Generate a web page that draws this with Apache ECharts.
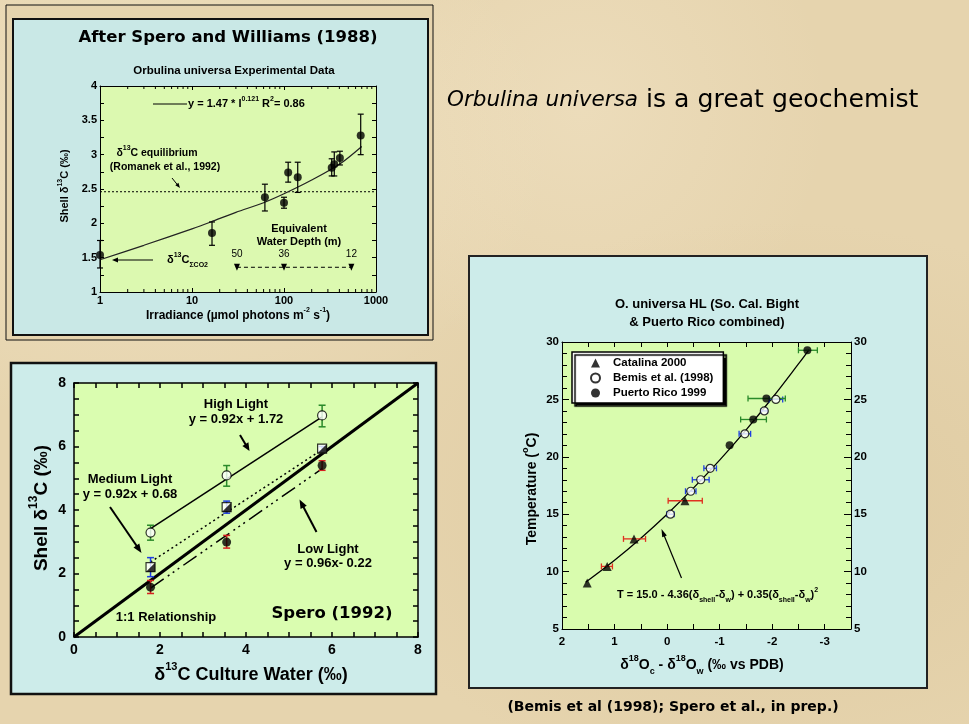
<!DOCTYPE html>
<html><head><meta charset="utf-8">
<script src="https://cdn.jsdelivr.net/npm/echarts@6/dist/echarts.min.js"></script>
<style>
html,body{margin:0;padding:0;width:969px;height:724px;overflow:hidden;}
body{background:
 radial-gradient(ellipse at 15% 20%, rgba(250,240,215,0.45), rgba(0,0,0,0) 35%),
 radial-gradient(ellipse at 80% 70%, rgba(205,180,130,0.30), rgba(0,0,0,0) 40%),
 radial-gradient(ellipse at 60% 15%, rgba(245,232,205,0.40), rgba(0,0,0,0) 30%),
 #e6d4ae;}
#c{width:969px;height:724px;}
</style></head><body><div id="c"></div><script>
// ---------- Panel 1: Spero & Williams (1988) ----------
const irrX  = [1, 16.5, 62, 100, 111, 141, 330, 352, 405, 682];
const irrY  = [1.54, 1.86, 2.38, 2.30, 2.74, 2.67, 2.81, 2.86, 2.95, 3.28];
const irrLo = [1.35, 1.68, 2.18, 2.22, 2.60, 2.45, 2.69, 2.69, 2.85, 3.00];
const irrHi = [1.75, 2.02, 2.57, 2.38, 2.89, 2.89, 2.94, 3.04, 3.05, 3.59];
const fitX  = [1, 3, 10, 16, 30, 60, 100, 200, 400, 700];
const fitY  = [1.47, 1.68, 1.92, 2.02, 2.16, 2.30, 2.43, 2.63, 2.86, 3.12];
const eqX   = [1, 1000];
const eqY   = [2.46, 2.46];
const depthX = [30.8, 100, 540];
const depthY = [1.36, 1.36, 1.36];
const depthLabels = ['50', '36', '12'];
const irrTicks = ['1', '10', '100', '1000'];

// ---------- Panel 2: Spero (1992) ----------
const cwX    = [1.78, 3.55, 5.77];
const highY  = [3.29, 5.09, 6.98];
const highLo = [3.05, 4.75, 6.62];
const highHi = [3.52, 5.40, 7.30];
const medY   = [2.20, 4.09, 5.93];
const medLo  = [1.90, 3.90, 5.86];
const medHi  = [2.50, 4.28, 6.00];
const lowY   = [1.57, 2.99, 5.40];
const lowLo  = [1.37, 2.80, 5.25];
const lowHi  = [1.78, 3.20, 5.55];
const highFitX = [1.78, 5.77], highFitY = [3.41, 6.93];
const medFitX  = [1.78, 5.77], medFitY  = [2.36, 5.90];
const lowFitX  = [1.78, 5.77], lowFitY  = [1.54, 5.30];
const oneX = [0, 8], oneY = [0, 8];

// ---------- Panel 3: O. universa HL ----------
const catX   = [1.52, 1.14, 0.63, -0.34];
const catY   = [9.0, 10.45, 12.85, 16.17];
const catXLo = [1.52, 1.25, 0.83, -0.02];
const catXHi = [1.52, 1.04, 0.41, -0.67];
const bemX   = [-0.063, -0.45, -0.64, -0.82, -1.48, -1.85, -2.07];
const bemY   = [15, 17, 18, 19, 22, 24, 25];
const bemErr = [0.07, 0.10, 0.16, 0.12, 0.11, 0.06, 0.13];
const prX    = [-1.19, -1.64, -1.89, -2.67];
const prY    = [21.0, 23.25, 25.08, 29.28];
const prXLo  = [-1.19, -1.40, -1.54, -2.50];
const prXHi  = [-1.19, -1.89, -2.25, -2.86];
const curveX = [1.55, 1.0, 0.5, 0, -0.5, -1.0, -1.5, -2.0, -2.5, -2.7];
const curveY = [9.08, 10.99, 12.91, 15.0, 17.27, 19.71, 22.33, 25.12, 28.09, 29.32];

// ---------- helpers ----------
const FA = "'Liberation Sans', Arial, Helvetica, sans-serif";
const FC = "'DejaVu Sans', 'Comic Sans MS', sans-serif";
const pairs = (xs, ys) => xs.map((x, i) => [x, ys[i]]);

function rich(F, fam, weight) {
  const w = weight || 'bold';
  const L = Math.round(F * 1.55);
  const s = Math.max(6, Math.round(F * 0.62));
  return {
    b:   {fontSize: F, fontWeight: w, fontFamily: fam, lineHeight: L, verticalAlign: 'middle', fill: '#000'},
    n:   {fontSize: F * 1.17, fontWeight: 'normal', fontFamily: fam, lineHeight: L, verticalAlign: 'middle', fill: '#000'},
    i:   {fontSize: F, fontWeight: 'normal', fontStyle: 'italic', fontFamily: fam, lineHeight: L, verticalAlign: 'middle', fill: '#000'},
    sup: {fontSize: s, fontWeight: w, fontFamily: fam, lineHeight: s + 1, verticalAlign: 'top', fill: '#000'},
    sub: {fontSize: s, fontWeight: w, fontFamily: fam, lineHeight: s + 1, verticalAlign: 'bottom', fill: '#000'}
  };
}
function T(x, y, text, F, o) {
  o = o || {};
  const fam = o.fam || FA;
  return {
    type: 'text', x: x, y: y, rotation: o.rot || 0, z: 100,
    style: {text: text, rich: rich(F, fam, o.weight), align: o.align || 'center', verticalAlign: 'middle',
            fontSize: F, fontFamily: fam, fontWeight: o.weight || 'bold', fill: '#000'}
  };
}
function arrow(x1, y1, x2, y2, lw, hl, hw) {
  const a = Math.atan2(y2 - y1, x2 - x1);
  const bx = x2 - hl * Math.cos(a), by = y2 - hl * Math.sin(a);
  const px = -Math.sin(a) * hw / 2, py = Math.cos(a) * hw / 2;
  return [
    {type: 'line', z: 100, shape: {x1: x1, y1: y1, x2: bx + (x2 - bx) * 0.3, y2: by + (y2 - by) * 0.3}, style: {stroke: '#000', lineWidth: lw}},
    {type: 'polygon', z: 100, shape: {points: [[x2, y2], [bx + px, by + py], [bx - px, by - py]]}, style: {fill: '#000'}}
  ];
}
function vErr(color, cap, lw) {
  return function (params, api) {
    const x = api.value(0), lo = api.value(1), hi = api.value(2);
    const a = api.coord([x, lo]), b = api.coord([x, hi]);
    const st = {stroke: color, lineWidth: lw};
    return {type: 'group', children: [
      {type: 'line', shape: {x1: a[0], y1: a[1], x2: b[0], y2: b[1]}, style: st},
      {type: 'line', shape: {x1: a[0] - cap, y1: a[1], x2: a[0] + cap, y2: a[1]}, style: st},
      {type: 'line', shape: {x1: b[0] - cap, y1: b[1], x2: b[0] + cap, y2: b[1]}, style: st}
    ]};
  };
}
function hErr(color, cap, lw) {
  return function (params, api) {
    const y = api.value(0), lo = api.value(1), hi = api.value(2);
    const a = api.coord([lo, y]), b = api.coord([hi, y]);
    const st = {stroke: color, lineWidth: lw};
    if (Math.abs(a[0] - b[0]) < 0.5) return {type: 'group', children: []};
    return {type: 'group', children: [
      {type: 'line', shape: {x1: a[0], y1: a[1], x2: b[0], y2: b[1]}, style: st},
      {type: 'line', shape: {x1: a[0], y1: a[1] - cap, x2: a[0], y2: a[1] + cap}, style: st},
      {type: 'line', shape: {x1: b[0], y1: b[1] - cap, x2: b[0], y2: b[1] + cap}, style: st}
    ]};
  };
}
const logMinor = [];
for (let d = 1; d <= 100; d *= 10) for (let k = 2; k <= 9; k++) logMinor.push(d * k);

function axis(o) {
  const base = {
    gridIndex: o.grid, type: o.type || 'value', min: o.min, max: o.max, interval: o.interval,
    position: o.position, inverse: !!o.inverse, logBase: 10,
    axisLine: {show: true, onZero: false, lineStyle: {color: '#000', width: o.lw || 1}},
    axisTick: {show: true, inside: true, length: o.tick || 5, lineStyle: {color: '#000', width: o.lw || 1}},
    minorTick: {show: !!o.minor, splitNumber: o.minor || 5, length: o.minorLen || 3, lineStyle: {color: '#000', width: o.lw || 1}},
    splitLine: {show: false}, minorSplitLine: {show: false},
    axisLabel: {show: !!o.labels, fontSize: o.fs || 11, fontWeight: 'bold', fontFamily: FA, color: '#000',
                margin: o.margin || 4, formatter: o.fmt, showMinLabel: true, showMaxLabel: true},
    axisPointer: {show: false}
  };
  if (o.type === 'log') delete base.interval;
  return base;
}
const logFmt = v => irrTicks[Math.round(Math.log10(v))];
const intFmt = v => (Math.abs(v - Math.round(v)) < 1e-6 ? String(Math.round(v)) : '');

const grids = [
  {left: 100, top: 86, width: 276, height: 206, show: true, backgroundColor: '#dcf9b0', borderWidth: 0},
  {left: 74, top: 383, width: 344, height: 254, show: true, backgroundColor: '#dafdb0', borderWidth: 0},
  {left: 562, top: 342, width: 289, height: 287, show: true, backgroundColor: '#d9fcae', borderWidth: 0}
];
const xAxes = [
  axis({grid: 0, type: 'log', min: 1, max: 1000, position: 'bottom', labels: true, fs: 11, margin: 3, fmt: logFmt, tick: 4}),
  axis({grid: 0, type: 'log', min: 1, max: 1000, position: 'top', tick: 4}),
  axis({grid: 1, min: 0, max: 8, interval: 2, position: 'bottom', labels: true, fs: 14, margin: 6, minor: 4, tick: 5, minorLen: 5, lw: 1.5}),
  axis({grid: 1, min: 0, max: 8, interval: 2, position: 'top', minor: 4, tick: 5, minorLen: 5, lw: 1.5}),
  axis({grid: 2, min: -3.5, max: 2, interval: 0.5, inverse: true, position: 'bottom', labels: true, fs: 11.5, margin: 7, fmt: intFmt, tick: 5}),
  axis({grid: 2, min: -3.5, max: 2, interval: 0.5, inverse: true, position: 'top', tick: 5})
];
const yAxes = [
  axis({grid: 0, min: 1, max: 4, interval: 0.5, position: 'left', labels: true, fs: 11, margin: 3, minor: 2, tick: 4, minorLen: 4}),
  axis({grid: 0, min: 1, max: 4, interval: 0.5, position: 'right', minor: 2, tick: 4, minorLen: 4}),
  axis({grid: 1, min: 0, max: 8, interval: 2, position: 'left', labels: true, fs: 14, margin: 8, minor: 4, tick: 5, minorLen: 5, lw: 1.5}),
  axis({grid: 1, min: 0, max: 8, interval: 2, position: 'right', minor: 4, tick: 5, minorLen: 5, lw: 1.5}),
  axis({grid: 2, min: 5, max: 30, interval: 5, position: 'left', labels: true, fs: 11.5, margin: 3, minor: 5, tick: 7, minorLen: 5}),
  axis({grid: 2, min: 5, max: 30, interval: 5, position: 'right', labels: true, fs: 11.5, margin: 3, minor: 5, tick: 7, minorLen: 5})
];

const series = [
  // panel 1
  {type: 'custom', xAxisIndex: 0, yAxisIndex: 0, silent: true, z: 3, data: logMinor.map(v => [v, 1]),
   renderItem: function (p, api) {
     const b = api.coord([api.value(0), 1]), t = api.coord([api.value(0), 4]);
     const st = {stroke: '#000', lineWidth: 1};
     return {type: 'group', children: [
       {type: 'line', shape: {x1: b[0], y1: b[1], x2: b[0], y2: b[1] - 3}, style: st},
       {type: 'line', shape: {x1: t[0], y1: t[1], x2: t[0], y2: t[1] + 3}, style: st}]};
   }},
  {type: 'line', xAxisIndex: 0, yAxisIndex: 0, data: pairs(eqX, eqY), symbol: 'none', silent: true, z: 2,
   lineStyle: {color: '#000', width: 1, type: [2, 2]}},
  {type: 'line', xAxisIndex: 0, yAxisIndex: 0, data: pairs(fitX, fitY), symbol: 'none', smooth: 0.3, silent: true, z: 2,
   lineStyle: {color: '#222', width: 1.2}},
  {type: 'line', xAxisIndex: 0, yAxisIndex: 0, data: pairs(depthX, depthY), silent: true, z: 2,
   symbol: 'triangle', symbolRotate: 180, symbolSize: [6, 7], itemStyle: {color: '#000'},
   lineStyle: {color: '#000', width: 1, type: [4, 3]},
   label: {show: true, position: 'top', distance: 5, fontSize: 10, fontFamily: FA, color: '#000',
           formatter: p => depthLabels[p.dataIndex]}},
  {type: 'custom', xAxisIndex: 0, yAxisIndex: 0, silent: true, z: 3, clip: false, renderItem: vErr('#000', 3, 1.2),
   data: irrX.map((x, i) => [x, irrLo[i], irrHi[i]])},
  {type: 'scatter', xAxisIndex: 0, yAxisIndex: 0, data: pairs(irrX, irrY), symbol: 'circle', symbolSize: 8, z: 4, clip: false,
   itemStyle: {color: '#000'}},

  // panel 2
  {type: 'line', xAxisIndex: 2, yAxisIndex: 2, data: pairs(oneX, oneY), symbol: 'none', silent: true, z: 2,
   lineStyle: {color: '#000', width: 3}},
  {type: 'line', xAxisIndex: 2, yAxisIndex: 2, data: pairs(highFitX, highFitY), symbol: 'none', silent: true, z: 2,
   lineStyle: {color: '#000', width: 1.5}},
  {type: 'line', xAxisIndex: 2, yAxisIndex: 2, data: pairs(medFitX, medFitY), symbol: 'none', silent: true, z: 2,
   lineStyle: {color: '#000', width: 1.5, type: [2, 3]}},
  {type: 'line', xAxisIndex: 2, yAxisIndex: 2, data: pairs(lowFitX, lowFitY), symbol: 'none', silent: true, z: 2,
   lineStyle: {color: '#000', width: 1.5, type: [16, 5, 2, 4, 2, 4, 2, 5]}},
  {type: 'custom', xAxisIndex: 2, yAxisIndex: 2, silent: true, z: 3, renderItem: vErr('#2a8a2a', 3.5, 1.5),
   data: cwX.map((x, i) => [x, highLo[i], highHi[i]])},
  {type: 'custom', xAxisIndex: 2, yAxisIndex: 2, silent: true, z: 3, renderItem: vErr('#1f3fe0', 3.5, 1.5),
   data: cwX.map((x, i) => [x, medLo[i], medHi[i]])},
  {type: 'custom', xAxisIndex: 2, yAxisIndex: 2, silent: true, z: 3, renderItem: vErr('#d42020', 3.5, 1.5),
   data: cwX.map((x, i) => [x, lowLo[i], lowHi[i]])},
  {type: 'scatter', xAxisIndex: 2, yAxisIndex: 2, data: pairs(cwX, highY), symbol: 'circle', symbolSize: 9, z: 4,
   itemStyle: {color: '#fff', borderColor: '#000', borderWidth: 1.2}},
  {type: 'scatter', xAxisIndex: 2, yAxisIndex: 2, data: pairs(cwX, medY), symbol: 'rect', symbolSize: 9, z: 4,
   itemStyle: {color: '#fff', borderColor: '#000', borderWidth: 1.2}},
  {type: 'scatter', xAxisIndex: 2, yAxisIndex: 2, data: pairs(cwX, medY), symbol: 'path://M10,0 L10,10 L0,10 Z', symbolSize: 9, z: 5,
   itemStyle: {color: '#000'}},
  {type: 'scatter', xAxisIndex: 2, yAxisIndex: 2, data: pairs(cwX, lowY), symbol: 'circle', symbolSize: 9, z: 4,
   itemStyle: {color: '#000'}},

  // panel 3
  {type: 'line', xAxisIndex: 4, yAxisIndex: 4, data: pairs(curveX, curveY), symbol: 'none', smooth: 0.4, silent: true, z: 2,
   lineStyle: {color: '#000', width: 1.3}},
  {type: 'custom', xAxisIndex: 4, yAxisIndex: 4, silent: true, z: 3, renderItem: hErr('#e03020', 3, 1.3),
   data: catY.map((y, i) => [y, catXLo[i], catXHi[i]]), encode: {x: 1, y: 0}},
  {type: 'custom', xAxisIndex: 4, yAxisIndex: 4, silent: true, z: 3, renderItem: hErr('#1f3fe0', 3, 1.3),
   data: bemY.map((y, i) => [y, bemX[i] - bemErr[i], bemX[i] + bemErr[i]]), encode: {x: 1, y: 0}},
  {type: 'custom', xAxisIndex: 4, yAxisIndex: 4, silent: true, z: 3, renderItem: hErr('#2a8a2a', 3, 1.3),
   data: prY.map((y, i) => [y, prXLo[i], prXHi[i]]), encode: {x: 1, y: 0}},
  {name: 'Catalina 2000', type: 'scatter', xAxisIndex: 4, yAxisIndex: 4, data: pairs(catX, catY), symbol: 'triangle', symbolSize: 9, z: 4,
   itemStyle: {color: '#000'}},
  {name: 'Bemis et al. (1998)', type: 'scatter', xAxisIndex: 4, yAxisIndex: 4, data: pairs(bemX, bemY), symbol: 'circle', symbolSize: 8, z: 4,
   itemStyle: {color: '#fff', borderColor: '#000', borderWidth: 1.2}},
  {name: 'Puerto Rico 1999', type: 'scatter', xAxisIndex: 4, yAxisIndex: 4, data: pairs(prX, prY), symbol: 'circle', symbolSize: 8, z: 4,
   itemStyle: {color: '#000'}}
];

// ---------- graphic: panels, titles, annotations ----------
const graphic = [
  {type: 'rect', z: -10, shape: {x: 6, y: 5, width: 427, height: 335}, style: {fill: '#e6d4ae', stroke: '#111', lineWidth: 1}},
  {type: 'rect', z: -9, shape: {x: 13, y: 19, width: 415, height: 316}, style: {fill: '#c9e8e6', stroke: '#111', lineWidth: 2}},
  {type: 'rect', z: -9, shape: {x: 11, y: 363, width: 425, height: 331}, style: {fill: '#cdecea', stroke: '#111', lineWidth: 2.5}},
  {type: 'rect', z: -9, shape: {x: 469, y: 256, width: 458, height: 432}, style: {fill: '#cdecea', stroke: '#222', lineWidth: 2}},

  // slide title & caption
  T(447, 100, '{i|Orbulina universa}{n| is a great geochemist}', 21.5, {fam: FC, align: 'left', weight: 'normal'}),
  T(673, 707, '{b|(Bemis et al (1998); Spero et al., in prep.)}', 14, {fam: FC}),

  // panel 1
  T(228, 38, '{b|After Spero and Williams (1988)}', 16.5, {fam: FC}),
  T(234, 71, '{b|Orbulina universa Experimental Data}', 11.5),
  {type: 'line', z: 100, shape: {x1: 153, y1: 104, x2: 187, y2: 104}, style: {stroke: '#000', lineWidth: 1}},
  T(188, 104, '{b|y = 1.47 * I}{sup|0.121}{b| R}{sup|2}{b|= 0.86}', 11, {align: 'left'}),
  T(157, 153, '{b|δ}{sup|13}{b|C equilibrium}', 10.5),
  T(165, 167, '{b|(Romanek et al., 1992)}', 10.5),
  ...arrow(172, 178, 180, 188, 1, 5, 4),
  T(167, 260, '{b|δ}{sup|13}{b|C}{sub|ΣCO2}', 11, {align: 'left'}),
  ...arrow(153, 260, 112, 260, 1, 6, 5),
  T(299, 229, '{b|Equivalent}', 11),
  T(299, 242, '{b|Water Depth (m)}', 11),
  T(65, 186, '{b|Shell δ}{sup|13}{b|C (‰)}', 11, {rot: Math.PI / 2}),
  T(238, 316, '{b|Irradiance (µmol photons m}{sup|-2}{b| s}{sup|-1}{b|)}', 12),

  // panel 2
  T(236, 404, '{b|High Light}', 13),
  T(236, 419, '{b|y = 0.92x + 1.72}', 13),
  ...arrow(240, 435, 249.5, 451, 2, 8, 7),
  T(130, 479, '{b|Medium Light}', 13),
  T(130, 494, '{b|y = 0.92x + 0.68}', 13),
  ...arrow(110, 507, 141.5, 553, 2, 9, 7),
  T(328, 549, '{b|Low Light}', 13),
  T(328, 563, '{b|y = 0.96x- 0.22}', 13),
  ...arrow(316.5, 532, 299.5, 499.5, 2, 9, 7),
  T(166, 617, '{b|1:1 Relationship}', 13),
  T(332, 614, '{b|Spero (1992)}', 16.5, {fam: FC}),
  T(42, 508, '{b|Shell δ}{sup|13}{b|C (‰)}', 19, {rot: Math.PI / 2}),
  T(251, 675, '{b|δ}{sup|13}{b|C Culture Water (‰)}', 18),

  // panel 3
  T(707, 304, '{b|O. universa HL (So. Cal. Bight}', 13),
  T(707, 322, '{b|& Puerto Rico combined)}', 13),
  T(617, 595, '{b|T = 15.0 - 4.36(δ}{sub|shell}{b|-δ}{sub|w}{b|) + 0.35(δ}{sub|shell}{b|-δ}{sub|w}{b|)}{sup|2}', 11, {align: 'left'}),
  ...arrow(681.5, 578, 661.5, 529, 1.2, 8, 5),
  T(532, 489, '{b|Temperature (}{sup|o}{b|C)}', 14, {rot: Math.PI / 2}),
  T(702, 665, '{b|δ}{sup|18}{b|O}{sub|c}{b| - δ}{sup|18}{b|O}{sub|w}{b| (‰ vs PDB)}', 14)
];

const chart = echarts.init(document.getElementById('c'), null, {renderer: 'canvas'});
chart.setOption({
  backgroundColor: 'transparent',
  animation: false,
  grid: grids,
  xAxis: xAxes,
  yAxis: yAxes,
  legend: {
    data: ['Catalina 2000', 'Bemis et al. (1998)', 'Puerto Rico 1999'],
    orient: 'vertical', left: 572, top: 352, itemWidth: 9, itemHeight: 9, itemGap: 3,
    backgroundColor: '#fff', borderColor: '#000', borderWidth: 1.5, borderRadius: 0,
    padding: [5, 10, 4, 18], selectedMode: false,
    shadowColor: '#000', shadowOffsetX: 3, shadowOffsetY: 3, shadowBlur: 1,
    textStyle: {fontFamily: FA, fontWeight: 'bold', fontSize: 11.5, color: '#000', padding: [0, 0, 0, 8], lineHeight: 12}
  },
  series: series,
  graphic: {elements: graphic}
});
</script></body></html>
